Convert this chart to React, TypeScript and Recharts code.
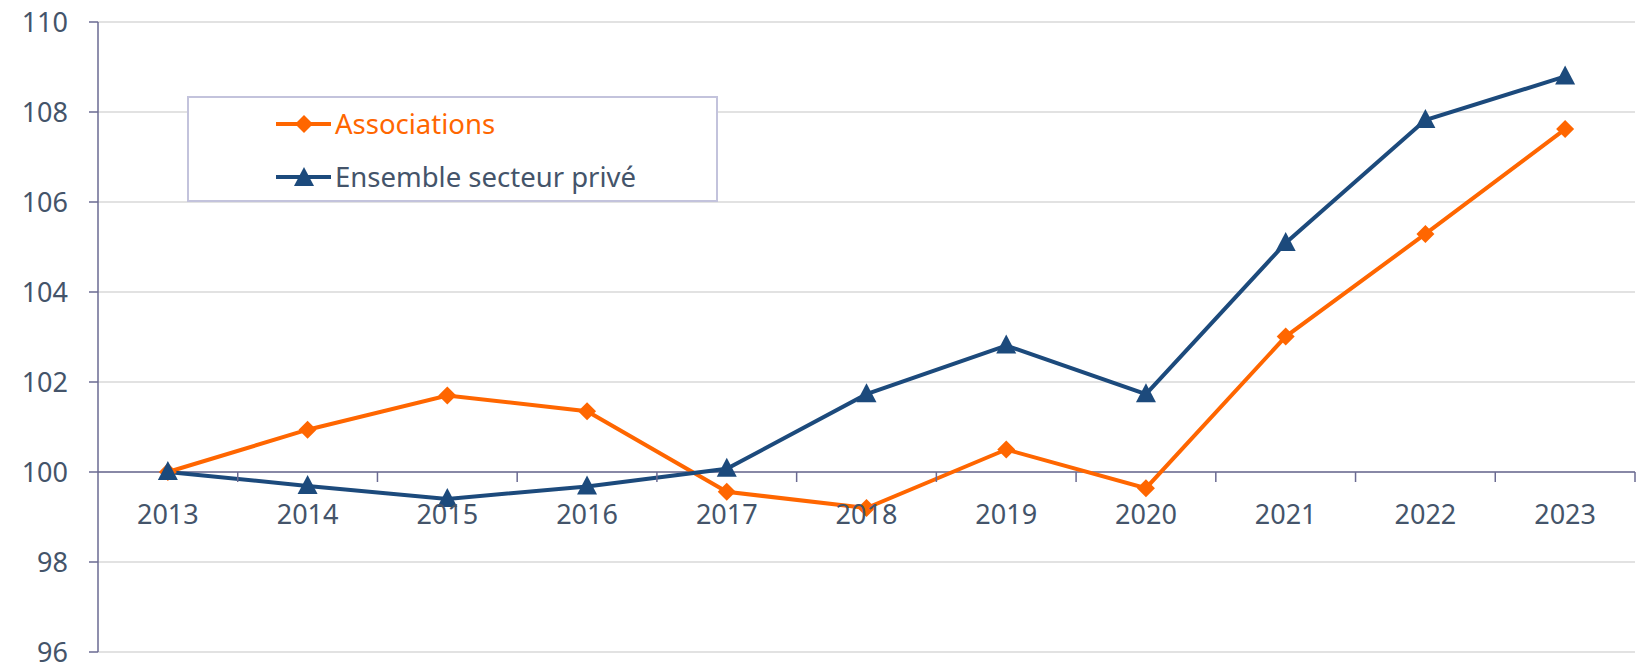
import { LineChart, Line, XAxis, YAxis, CartesianGrid, ReferenceLine, Legend } from 'recharts';

const years = ['2013', '2014', '2015', '2016', '2017', '2018', '2019', '2020', '2021', '2022', '2023'];
const associations = [100, 100.94, 101.7, 101.35, 99.56, 99.2, 100.5, 99.64, 103.01, 105.29, 107.62];
const secteurPrive = [100, 99.69, 99.4, 99.68, 100.07, 101.73, 102.81, 101.73, 105.09, 107.82, 108.79];
const yTicks = [96, 98, 100, 102, 104, 106, 108, 110];

const data = years.map((year, i) => ({
  year,
  associations: associations[i],
  prive: secteurPrive[i],
}));

const W = 1637;
const H = 664;
const X_AXIS_H = 1;
const MARGIN = { top: 22, right: 2, bottom: 12 - X_AXIS_H, left: 0 };
const Y_AXIS_W = 98;
const PLOT_W = W - MARGIN.left - MARGIN.right - Y_AXIS_W;
const PLOT_H = H - MARGIN.top - MARGIN.bottom - X_AXIS_H;
const STEP = PLOT_W / years.length;
const BASE_Y = MARGIN.top + ((110 - 100) / (110 - 96)) * PLOT_H;

const FONT = '"Noto Sans", "Open Sans", sans-serif';
const TEXT = '#44546a';
const AXIS = '#6a6a92';
const GRID = '#d9d9d9';
const ORANGE = '#ff6600';
const BLUE = '#1c4a7c';

const legendText: Record<string, string> = {
  associations: ORANGE,
  prive: TEXT,
};

// year labels and tick marks sit on the 100 line, not at the bottom
const XTick = (props: any) => {
  const { x, payload } = props;
  return (
    <g>
      <line x1={x + STEP / 2} x2={x + STEP / 2} y1={BASE_Y} y2={BASE_Y + 10} stroke={AXIS} strokeWidth={1.5} />
      <text x={x} y={BASE_Y + 41} textAnchor="middle" dominantBaseline="central" fill={TEXT} fontSize={27} fontFamily={FONT}>
        {payload.value}
      </text>
    </g>
  );
};

const Diamond = (props: any) => {
  const { cx, cy } = props;
  if (cx == null || cy == null) return null;
  const r = 9;
  return <polygon points={`${cx},${cy - r} ${cx + r},${cy} ${cx},${cy + r} ${cx - r},${cy}`} fill={ORANGE} />;
};

const Triangle = (props: any) => {
  const { cx, cy } = props;
  if (cx == null || cy == null) return null;
  return <polygon points={`${cx},${cy - 11} ${cx + 10},${cy + 8} ${cx - 10},${cy + 8}`} fill={BLUE} />;
};

const LegendBox = (props: any) => {
  const { payload = [] } = props;
  return (
    <div
      style={{
        width: 531,
        height: 106,
        boxSizing: 'border-box',
        border: '2px solid #c3c3dc',
        background: '#fff',
        position: 'relative',
        fontFamily: FONT,
      }}
    >
      {payload.map((entry: any, i: number) => {
        const key = entry.dataKey as string;
        const cy = 12;
        return (
          <div
            key={key}
            style={{
              position: 'absolute',
              left: 87,
              top: 25.7 + i * 53.5 - 18,
              height: 36,
              display: 'flex',
              alignItems: 'center',
            }}
          >
            <svg width={57} height={24} style={{ marginRight: 2 }}>
              <line x1={0} x2={55} y1={cy} y2={cy} stroke={entry.color} strokeWidth={4} />
              {key === 'associations' ? (
                <Diamond cx={28} cy={cy} />
              ) : (
                <Triangle cx={28} cy={cy + 1} />
              )}
            </svg>
            <span style={{ color: legendText[key], fontSize: 27.5, lineHeight: '36px', whiteSpace: 'nowrap' }}>
              {entry.value}
            </span>
          </div>
        );
      })}
    </div>
  );
};

export default function App() {
  return (
    <div style={{ position: 'absolute', left: 0, top: 0, width: W, height: H, background: '#fff' }}>
      <LineChart width={W} height={H} data={data} margin={MARGIN} style={{ fontFamily: FONT }}>
        <CartesianGrid vertical={false} stroke={GRID} strokeWidth={1.5} />
        <XAxis
          dataKey="year"
          height={X_AXIS_H}
          padding={{ left: STEP / 2, right: STEP / 2 }}
          axisLine={false}
          tickLine={false}
          tick={<XTick />}
          interval={0}
        />
        <YAxis
          domain={[96, 110]}
          ticks={yTicks}
          interval={0}
          width={Y_AXIS_W}
          axisLine={{ stroke: AXIS, strokeWidth: 1.5 }}
          tickLine={{ stroke: AXIS, strokeWidth: 1.5 }}
          tickSize={9}
          tickMargin={21}
          tick={{ fill: TEXT, fontSize: 27, fontFamily: FONT }}
        />
        <ReferenceLine y={100} stroke={AXIS} strokeWidth={1.5} />
        <Legend
          layout="horizontal"
          verticalAlign="middle"
          align="center"
          wrapperStyle={{ left: 187, top: 96, width: 531, height: 106 }}
          content={<LegendBox />}
        />
        <Line
          dataKey="associations"
          name="Associations"
          stroke={ORANGE}
          strokeWidth={4}
          dot={<Diamond />}
          activeDot={false}
          isAnimationActive={false}
        />
        <Line
          dataKey="prive"
          name="Ensemble secteur privé"
          stroke={BLUE}
          strokeWidth={4}
          dot={<Triangle />}
          activeDot={false}
          isAnimationActive={false}
        />
      </LineChart>
    </div>
  );
}
